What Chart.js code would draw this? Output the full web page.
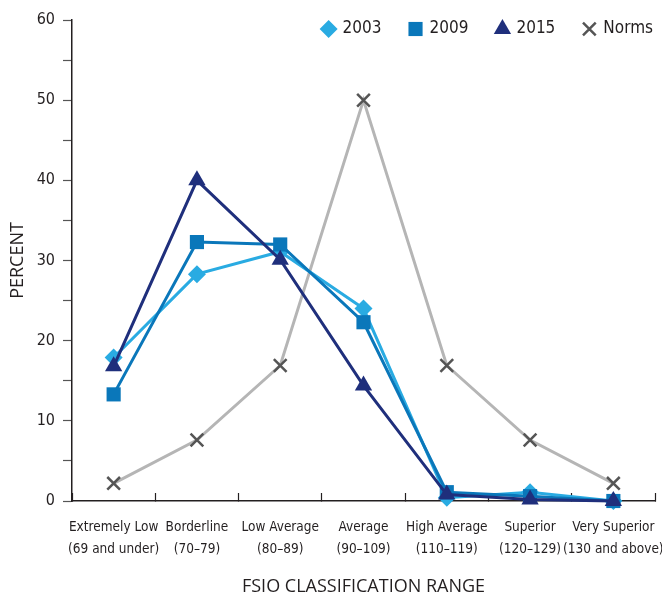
<!DOCTYPE html>
<html lang="en">

<head>
  <meta charset="UTF-8">
  <title>FSIQ Classification Range</title>
  <script src="https://cdn.jsdelivr.net/npm/chart.js"></script>
  <style>
    body { margin: 0; background: #fff; }
    #wrap { width: 662px; height: 595px; }
  </style>
</head>

<body>
  <div id="wrap"><canvas id="fsioChart"></canvas></div>

  <script>
    // categories (two-line tick labels)
    const categories = [
      ['Extremely Low', '(69 and under)'],
      ['Borderline', '(70\u201379)'],
      ['Low Average', '(80\u201389)'],
      ['Average', '(90\u2013109)'],
      ['High Average', '(110\u2013119)'],
      ['Superior', '(120\u2013129)'],
      ['Very Superior', '(130 and above)']
    ];

    // percent per range
    const pct2003 = [17.9, 28.3, 31.1, 24.0, 0.4, 1.1, 0];
    const pct2009 = [13.3, 32.3, 32.0, 22.3, 1.1, 0.6, 0];
    const pct2015 = [16.8, 40.0, 30.1, 14.4, 0.8, 0.2, 0];
    const pctNorms = [2.2, 7.6, 16.9, 50, 16.9, 7.6, 2.2];

    const yTicks = [0, 10, 20, 30, 40, 50, 60];

    const narrow = '"DejaVu Sans Condensed", "Liberation Sans Narrow", sans-serif';
    const wide = '"Open Sans", "Liberation Sans", sans-serif';
    const ink = '#231f20';

    // legend drawn in the top right corner of the plot, right aligned
    const cornerLegend = {
      id: 'cornerLegend',
      afterDraw(chart) {
        const ctx = chart.ctx;
        const y = 29;
        ctx.save();
        ctx.font = '17px ' + narrow;
        ctx.textBaseline = 'middle';
        let x = chart.chartArea.right - 2;
        for (let i = chart.data.datasets.length - 1; i >= 0; i--) {
          const ds = chart.data.datasets[i];
          const w = ctx.measureText(ds.label).width;
          x -= w;
          ctx.fillStyle = ink;
          ctx.fillText(ds.label, x, y);
          const cx = x - 14;
          ctx.fillStyle = ds.pointBackgroundColor;
          ctx.strokeStyle = ds.pointBorderColor;
          ctx.lineWidth = ds.pointBorderWidth;
          Chart.helpers.drawPoint(ctx, {
            pointStyle: ds.pointStyle,
            radius: ds.pointRadius,
            borderWidth: ds.pointBorderWidth,
            rotation: 0
          }, cx, y);
          x = cx - 34;
        }
        ctx.restore();
      }
    };

    const ctx = document.getElementById('fsioChart').getContext('2d');
    new Chart(ctx, {
      type: 'line',
      data: {
        labels: categories,
        datasets: [
          {
            label: '2003',
            data: pct2003,
            order: 2,
            borderColor: '#29abe2',
            borderWidth: 3,
            pointStyle: 'rectRot',
            pointRadius: 9,
            pointBackgroundColor: '#29abe2',
            pointBorderColor: '#29abe2',
            pointBorderWidth: 0,
            clip: false
          },
          {
            label: '2009',
            data: pct2009,
            order: 1,
            borderColor: '#0a77ba',
            borderWidth: 3,
            pointStyle: 'rect',
            pointRadius: 10,
            pointBackgroundColor: '#0a77ba',
            pointBorderColor: '#0a77ba',
            pointBorderWidth: 0,
            clip: false
          },
          {
            label: '2015',
            data: pct2015,
            order: 0,
            borderColor: '#1f2f7c',
            borderWidth: 3,
            pointStyle: 'triangle',
            pointRadius: 10,
            pointBackgroundColor: '#1f2f7c',
            pointBorderColor: '#1f2f7c',
            pointBorderWidth: 0,
            clip: false
          },
          {
            label: 'Norms',
            data: pctNorms,
            order: 3,
            borderColor: '#b5b5b5',
            borderWidth: 3,
            pointStyle: 'crossRot',
            pointRadius: 9,
            pointBackgroundColor: '#555555',
            pointBorderColor: '#555555',
            pointBorderWidth: 2.5,
            clip: false
          }
        ]
      },
      options: {
        responsive: true,
        maintainAspectRatio: false,
        animation: false,
        layout: {
          autoPadding: false,
          padding: { top: 20, right: 7, left: 0, bottom: 0 }
        },
        plugins: {
          legend: { display: false },
          tooltip: { enabled: false }
        },
        scales: {
          x: {
            offset: true,
            grid: {
              offset: true,
              drawOnChartArea: false,
              tickLength: -8,
              tickColor: ink,
              tickWidth: 1.2
            },
            border: { color: ink, width: 1.5 },
            ticks: {
              maxRotation: 0,
              autoSkip: false,
              padding: 24,
              color: ink,
              font: { family: narrow, size: 13.5, lineHeight: 1.6 }
            },
            title: {
              display: true,
              text: 'FSIO CLASSIFICATION RANGE',
              color: ink,
              font: { family: wide, size: 18 },
              padding: { top: 0, bottom: -3 }
            },
            afterFit(scale) {
              scale.height = 94;
              scale.paddingLeft = 0;
              scale.paddingRight = 0;
            }
          },
          y: {
            min: yTicks[0],
            max: yTicks[yTicks.length - 1],
            grid: {
              drawOnChartArea: false,
              tickLength: 9,
              tickColor: '#555555',
              tickWidth: 1.2
            },
            border: { color: ink, width: 1.5 },
            ticks: {
              stepSize: 5,
              padding: 8,
              color: ink,
              font: { family: narrow, size: 16 },
              callback: v => yTicks.includes(v) ? v : ''
            },
            title: {
              display: true,
              text: 'PERCENT',
              color: ink,
              font: { family: wide, size: 18 },
              padding: { top: 7, bottom: 0 }
            },
            afterFit(scale) {
              scale.width = 72;
              scale.paddingTop = 0;
              scale.paddingBottom = 0;
            }
          }
        }
      },
      plugins: [cornerLegend]
    });
  </script>
</body>

</html>
